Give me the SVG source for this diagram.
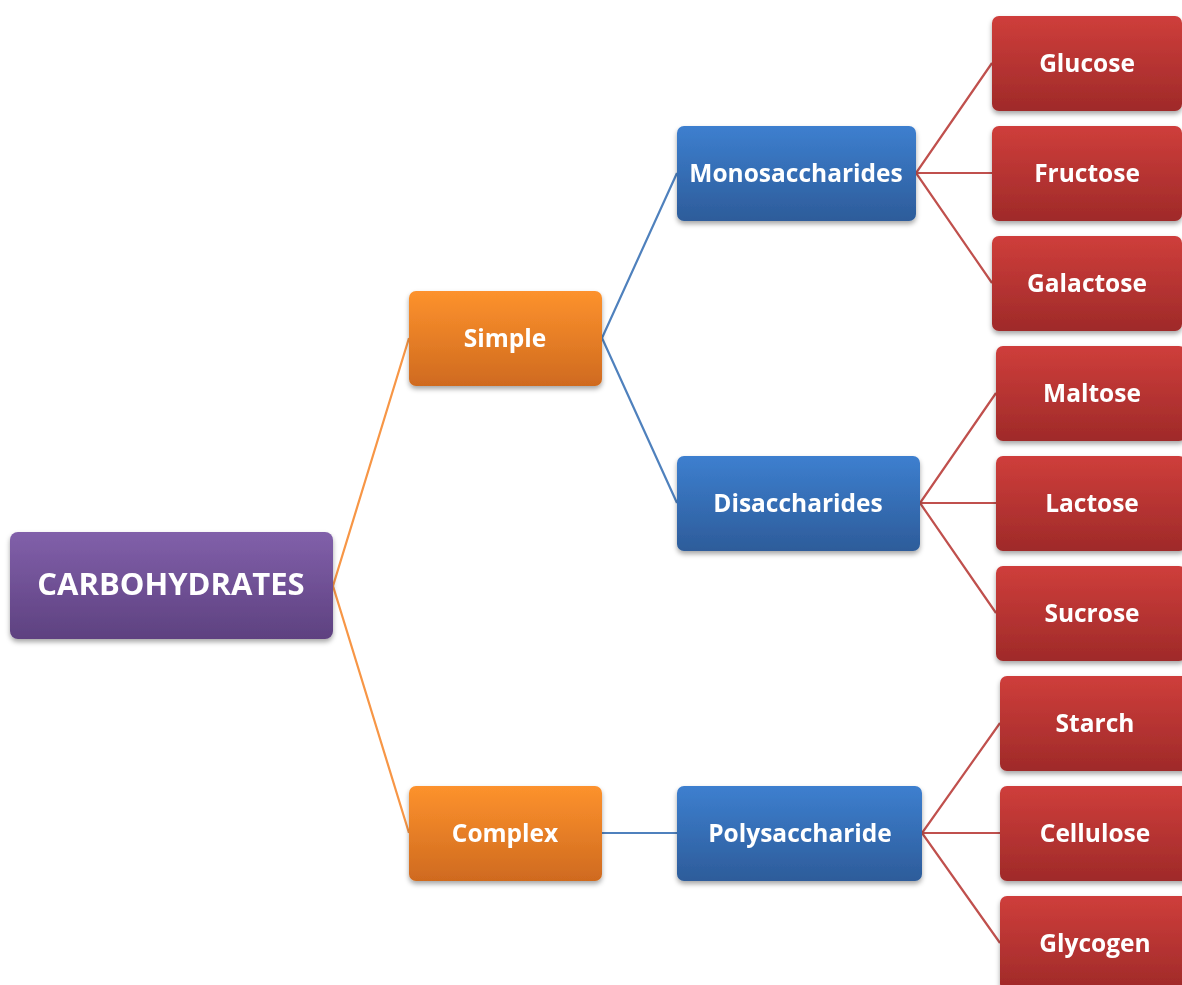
<svg xmlns="http://www.w3.org/2000/svg" width="1182" height="985" viewBox="0 0 1182 985">
<defs>
<linearGradient id="gPurple" x1="0" y1="0" x2="0" y2="1"><stop offset="0" stop-color="#8160aa"/><stop offset="1" stop-color="#5e4180"/></linearGradient>
<linearGradient id="gOrange" x1="0" y1="0" x2="0" y2="1"><stop offset="0" stop-color="#fd922d"/><stop offset="1" stop-color="#cf6a1f"/></linearGradient>
<linearGradient id="gBlue" x1="0" y1="0" x2="0" y2="1"><stop offset="0" stop-color="#3d7fcf"/><stop offset="1" stop-color="#2d5c9a"/></linearGradient>
<linearGradient id="gRed" x1="0" y1="0" x2="0" y2="1"><stop offset="0" stop-color="#cf3e3b"/><stop offset="1" stop-color="#9f2a29"/></linearGradient>
<filter id="sh" x="-10%" y="-10%" width="120%" height="135%"><feDropShadow dx="0" dy="3" stdDeviation="2.5" flood-color="#000" flood-opacity="0.35"/></filter>
</defs>
<style>
.n{filter:url(#sh)}
.p{fill:url(#gPurple)}
.o{fill:url(#gOrange)}
.b{fill:url(#gBlue)}
.r{fill:url(#gRed)}
text{font-family:"Open Sans","Liberation Sans",sans-serif;font-weight:bold;fill:#fff;text-anchor:middle;font-size:24.5px}
.big{font-size:31px}
.lo{stroke:#f79646;stroke-width:2.2;fill:none}
.lb{stroke:#4f81bd;stroke-width:2.2;fill:none}
.lr{stroke:#c0504d;stroke-width:2.2;fill:none}
</style>
<rect width="1182" height="985" fill="#fff"/>
<g id="connectors">
<path class="lo" d="M409,338 L333,586 L409,833"/>
<path class="lb" d="M677,173 L602,338 L677,503"/>
<path class="lb" d="M602,833 L677,833"/>
<path class="lr" d="M992,63 L916,173 L992,283 M916,173 L992,173"/>
<path class="lr" d="M996,393 L920,503 L996,613 M920,503 L996,503"/>
<path class="lr" d="M1000,723 L922,833 L1000,943 M922,833 L1000,833"/>
</g>
<g id="carbohydrates" class="n"><rect class="p" x="10" y="532" width="323" height="107" rx="8"/><text class="big" x="171" y="595">CARBOHYDRATES</text></g>
<g id="simple" class="n"><rect class="o" x="409" y="291" width="193" height="95" rx="7"/><text x="505" y="347">Simple</text></g>
<g id="complex" class="n"><rect class="o" x="409" y="786" width="193" height="95" rx="7"/><text x="505" y="842">Complex</text></g>
<g id="monosaccharides" class="n"><rect class="b" x="677" y="126" width="239" height="95" rx="7"/><text x="796" y="182">Monosaccharides</text></g>
<g id="disaccharides" class="n"><rect class="b" x="677" y="456" width="243" height="95" rx="7"/><text x="798" y="512">Disaccharides</text></g>
<g id="polysaccharide" class="n"><rect class="b" x="677" y="786" width="245" height="95" rx="7"/><text x="800" y="842">Polysaccharide</text></g>
<g id="glucose" class="n"><rect class="r" x="992" y="16" width="190" height="95" rx="7"/><text x="1087" y="72">Glucose</text></g>
<g id="fructose" class="n"><rect class="r" x="992" y="126" width="190" height="95" rx="7"/><text x="1087" y="182">Fructose</text></g>
<g id="galactose" class="n"><rect class="r" x="992" y="236" width="190" height="95" rx="7"/><text x="1087" y="292">Galactose</text></g>
<g id="maltose" class="n"><rect class="r" x="996" y="346" width="190" height="95" rx="7"/><text x="1092" y="402">Maltose</text></g>
<g id="lactose" class="n"><rect class="r" x="996" y="456" width="190" height="95" rx="7"/><text x="1092" y="512">Lactose</text></g>
<g id="sucrose" class="n"><rect class="r" x="996" y="566" width="190" height="95" rx="7"/><text x="1092" y="622">Sucrose</text></g>
<g id="starch" class="n"><rect class="r" x="1000" y="676" width="190" height="95" rx="7"/><text x="1095" y="732">Starch</text></g>
<g id="cellulose" class="n"><rect class="r" x="1000" y="786" width="190" height="95" rx="7"/><text x="1095" y="842">Cellulose</text></g>
<g id="glycogen" class="n"><rect class="r" x="1000" y="896" width="190" height="95" rx="7"/><text x="1095" y="952">Glycogen</text></g>
</svg>
